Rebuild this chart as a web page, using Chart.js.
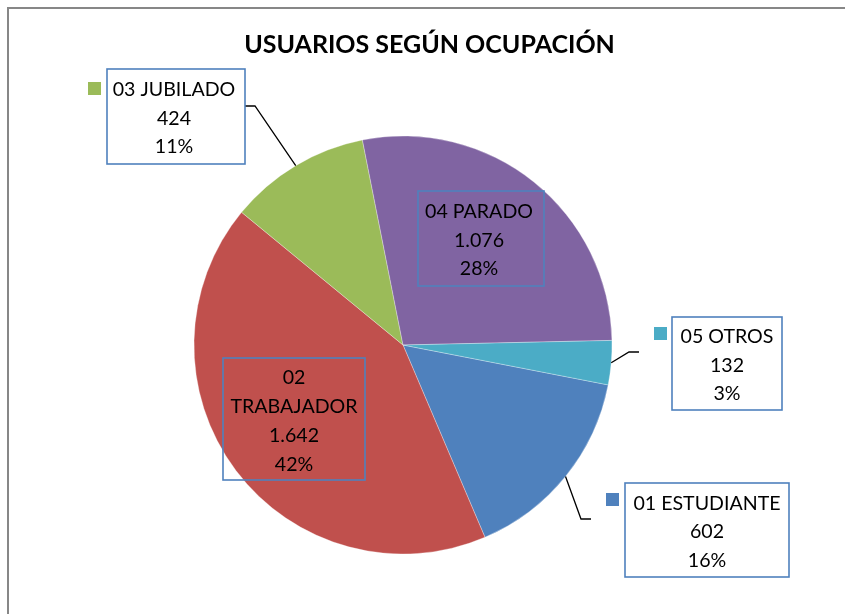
<!DOCTYPE html>
<html>
<head>
<meta charset="utf-8">
<script src="https://cdn.jsdelivr.net/npm/chart.js@4.4.1/dist/chart.umd.min.js"></script>
<style>
html,body{margin:0;padding:0;background:#fff;}
#wrap{width:845px;height:614px;position:relative;}
</style>
</head>
<body>
<div id="wrap"><canvas id="c" width="845" height="614"></canvas></div>
<script>
// ---- data ----
const chartTitle = 'USUARIOS SEGÚN OCUPACIÓN';
const categories = ['01 ESTUDIANTE', '02 TRABAJADOR', '03 JUBILADO', '04 PARADO', '05 OTROS'];
const values = [602, 1642, 424, 1076, 132];

// ---- styles ----
const colors = ['#4F81BD', '#C0504D', '#9BBB59', '#8064A2', '#4BACC6'];
const FONT = "Lato, 'Open Sans', sans-serif";
// label placement (style only): box rect, optional legend key, leader anchor
const labelLayout = [
  {box: [625, 483, 164, 94], key: [606, 493], anchor: [591, 519], dir: -1, fill: true},
  {box: [223, 358, 142, 122], wrap: true, fill: false},
  {box: [107, 69, 138, 95], key: [88, 82], anchor: [245, 106], dir: 1, fill: true, dx: -2},
  {box: [418, 191, 126, 95], fill: false, dx: -2},
  {box: [672, 317, 110, 93], key: [654, 327], anchor: [639, 352], dir: -1, fill: true}
];

function fmtThousands(v) {
  return String(v).replace(/\B(?=(\d{3})+(?!\d))/g, '.');
}

const labelsPlugin = {
  id: 'excelLabels',
  beforeDraw(chart) {
    const ctx = chart.ctx;
    ctx.save();
    ctx.fillStyle = '#fff';
    ctx.fillRect(0, 0, chart.width, chart.height);
    ctx.strokeStyle = '#878787';
    ctx.lineWidth = 2;
    ctx.strokeRect(8, 8, 900, 700);
    ctx.fillStyle = '#000';
    ctx.font = 'bold 25px ' + FONT;
    ctx.textAlign = 'center';
    ctx.textBaseline = 'alphabetic';
    ctx.fillText(chartTitle, 429.5, 53);
    ctx.restore();
  },
  afterDatasetsDraw(chart) {
    const ctx = chart.ctx;
    const meta = chart.getDatasetMeta(0);
    const total = values.reduce((a, b) => a + b, 0);
    ctx.save();
    meta.data.forEach((arc, i) => {
      const L = labelLayout[i];
      const [bx, by, bw, bh] = L.box;
      const mid = (arc.startAngle + arc.endAngle) / 2;
      // leader line
      if (L.anchor) {
        const px = arc.x + arc.outerRadius * Math.cos(mid);
        const py = arc.y + arc.outerRadius * Math.sin(mid);
        ctx.beginPath();
        ctx.strokeStyle = '#000';
        ctx.lineWidth = 1.3;
        ctx.moveTo(L.anchor[0], L.anchor[1]);
        ctx.lineTo(L.anchor[0] + L.dir * 10, L.anchor[1]);
        ctx.lineTo(px, py);
        ctx.stroke();
      }
      // box
      if (L.fill) {
        ctx.fillStyle = '#fff';
        ctx.fillRect(bx, by, bw, bh);
      }
      ctx.strokeStyle = '#4F81BD';
      ctx.lineWidth = 1.6;
      ctx.strokeRect(bx, by, bw, bh);
      // legend key
      if (L.key) {
        ctx.fillStyle = colors[i];
        ctx.fillRect(L.key[0], L.key[1], 13, 13);
      }
      // text
      const pct = Math.round(values[i] / total * 100) + '%';
      let lines;
      if (L.wrap) {
        const parts = categories[i].split(' ');
        lines = [parts[0], parts.slice(1).join(' '), fmtThousands(values[i]), pct];
      } else {
        lines = [categories[i], fmtThousands(values[i]), pct];
      }
      const fs = 19.6;
      const lh = L.wrap ? 29 : 28.5;
      ctx.font = fs + 'px ' + FONT;
      ctx.fillStyle = '#000';
      ctx.textAlign = 'center';
      ctx.textBaseline = 'alphabetic';
      const cx = bx + bw / 2 + (L.dx || 0);
      const cy = by + bh / 2 + 1;
      const y0 = cy - (lines.length - 1) * lh / 2;
      lines.forEach((t, k) => {
        ctx.fillText(t, cx, y0 + k * lh + fs * 0.36);
      });
    });
    ctx.restore();
  }
};

new Chart(document.getElementById('c'), {
  type: 'pie',
  data: {
    labels: categories,
    datasets: [{
      data: values,
      backgroundColor: colors,
      borderColor: 'rgba(255,255,255,0.3)',
      borderWidth: 1
    }]
  },
  options: {
    responsive: false,
    animation: false,
    rotation: 101,
    radius: 209,
    layout: {padding: {left: 100, right: 139, top: 100, bottom: 24}},
    plugins: {
      legend: {display: false},
      title: {display: false},
      tooltip: {enabled: false}
    }
  },
  plugins: [labelsPlugin]
});
</script>
</body>
</html>
